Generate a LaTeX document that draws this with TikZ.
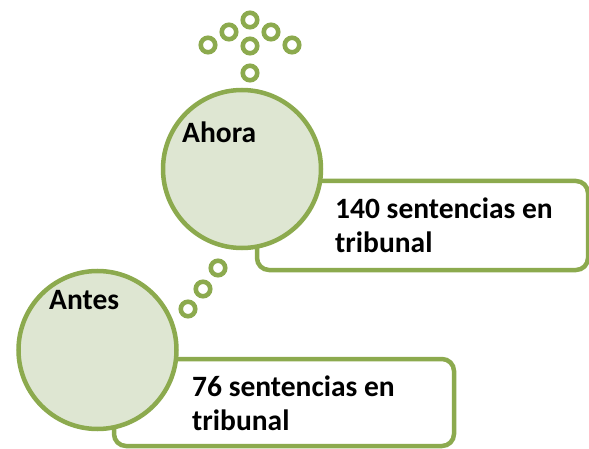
\documentclass[tikz,border=0pt]{standalone}
\usepackage{fontspec}
\setmainfont{Carlito}
\definecolor{gline}{HTML}{8CAA4E}
\definecolor{gfill}{HTML}{DEE6D2}
\begin{document}
\begin{tikzpicture}[x=1pt,y=-1pt,
  bigcirc/.style={circle,draw=gline,fill=gfill,line width=4.5pt,minimum size=158pt,inner sep=0pt},
  infobox/.style={rectangle,draw=gline,fill=white,line width=4.5pt,rounded corners=12pt,inner sep=0pt},
  ring/.style={circle,draw=gline,line width=4.6pt,minimum size=14.5pt,inner sep=0pt},
  lbl/.style={font=\fontsize{29.5}{34}\selectfont\bfseries,inner sep=0pt,anchor=base west,align=left}]
\useasboundingbox (0,0) rectangle (589,449);
% boxes
\node[infobox,minimum width=331pt,minimum height=89pt] (boxtop) at (422.5,225.5) {};
\node[infobox,minimum width=340pt,minimum height=87pt] (boxbot) at (284,402.5) {};
% circles
\node[bigcirc] (ahora) at (242,169) {};
\node[bigcirc] (antes) at (97.5,350) {};
% rings
\node[ring] (r1) at (208,45) {};
\node[ring] (r2) at (229,32) {};
\node[ring] (r3) at (250,20) {};
\node[ring] (r4) at (271,32) {};
\node[ring] (r5) at (292,45) {};
\node[ring] (r6) at (250,46) {};
\node[ring] (r7) at (250,73) {};
\node[ring] (s1) at (218,268) {};
\node[ring] (s2) at (203,289) {};
\node[ring] (s3) at (188,309) {};
% texts
\node[lbl] (tahora) at (182,143) {Ahora};
\node[lbl] (tantes) at (49,309) {Antes};
\node[lbl] (ttop) at (335,252) {140 sentencias en\\tribunal};
\node[lbl] (tbot) at (192,430) {76 sentencias en\\tribunal};
\end{tikzpicture}
\end{document}
